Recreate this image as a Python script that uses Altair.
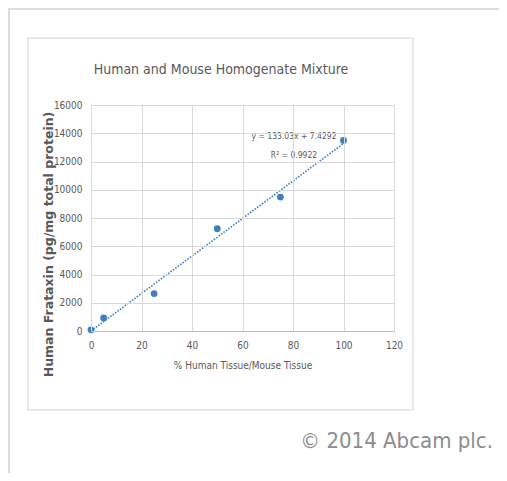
import altair as alt
import pandas as pd

# data
pct_human = [0, 5, 25, 50, 75, 100]
frataxin = [80, 920, 2650, 7240, 9480, 13490]

eq_text = ["y = 133.03x + 7.4292", "R² = 0.9922"]
eq_x = [80.4, 80.4]
eq_y = [13770, 12430]

x_ticks = [0, 20, 40, 60, 80, 100, 120]
y_ticks = [0, 2000, 4000, 6000, 8000, 10000, 12000, 14000, 16000]

df = pd.DataFrame({"x": pct_human, "y": frataxin})
eq = pd.DataFrame({"t": eq_text, "x": eq_x, "y": eq_y})

BLUE = "#3f7fc2"
GRID = "#d9d9d9"
TXT = "#595959"
FONT = "'DejaVu Sans Condensed', Lato"

xs = alt.Scale(domain=[0, 120], nice=False)
ys = alt.Scale(domain=[0, 16000], nice=False)

one = alt.Data(values=[{}])

outer_top = alt.Chart(one).mark_rule(color="#dcdcdc", strokeWidth=2).encode(
    x=alt.value(-83), x2=alt.value(420), y=alt.value(-96))
outer_left = alt.Chart(one).mark_rule(color="#dcdcdc", strokeWidth=2).encode(
    x=alt.value(-82), y=alt.value(-97), y2=alt.value(380))
box = alt.Chart(one).mark_rect(fill="white", stroke="#e2e2e2", strokeWidth=1.5).encode(
    x=alt.value(-63), x2=alt.value(322), y=alt.value(-67), y2=alt.value(305))

title_ = alt.Chart(one).mark_text(
    text="Human and Mouse Homogenate Mixture", font=FONT, fontSize=14, color=TXT,
    align="center", baseline="middle").encode(x=alt.value(130), y=alt.value(-35))

copyright_ = alt.Chart(one).mark_text(
    text="© 2014 Abcam plc.", font=FONT, fontSize=22, color="#8c8c8c",
    align="right", baseline="alphabetic").encode(
    x=alt.value(402), y=alt.value(343))

xaxis = alt.Axis(values=x_ticks, grid=True, gridColor=GRID, domainColor="#bfbfbf",
                 ticks=False, labelFont=FONT, labelFontSize=10, labelColor=TXT,
                 labelPadding=9, labelFlush=False, labelOverlap=False,
                 title="% Human Tissue/Mouse Tissue", titleFont=FONT,
                 titleFontSize=10, titleColor=TXT, titleFontWeight="normal", titlePadding=10,
                 zindex=1)
yaxis = alt.Axis(values=y_ticks, format="d", grid=True, gridColor=GRID, domain=False,
                 ticks=False, labelFont=FONT, labelFontSize=10, labelColor=TXT,
                 labelPadding=9, labelFlush=False, labelOverlap=False,
                 title="Human Frataxin (pg/mg total protein)", titleFont="DejaVu Sans",
                 titleFontSize=12.5, titleFontWeight="bold", titleColor=TXT,
                 titleX=-43, titleY=139, titleBaseline="middle", titleAlign="center",
                 titleAngle=270, zindex=1)

X = alt.X("x:Q", scale=xs, axis=xaxis)
Y = alt.Y("y:Q", scale=ys, axis=yaxis)

base = alt.Chart(df)
trend = base.transform_regression("x", "y", extent=[0, 100]).mark_line(
    color=BLUE, strokeWidth=1.6, strokeDash=[1.6, 1.4]).encode(x=X, y=Y)
pts = base.mark_circle(size=46, color=BLUE, opacity=1).encode(x=X, y=Y)
labels = alt.Chart(eq).mark_text(font=FONT, fontSize=8.5, color=TXT, align="center",
                                 baseline="middle").encode(x=X, y=Y, text="t:N")

chart = alt.layer(outer_top, outer_left, box, title_, trend, pts, labels, copyright_).properties(
    width=303, height=226,
    autosize=alt.AutoSizeParams(type="none"),
    padding={"left": 83, "top": 97, "right": 105, "bottom": 142},
).configure_view(stroke=None)

chart.save("out.html", embed_options={"renderer": "svg", "actions": False})
